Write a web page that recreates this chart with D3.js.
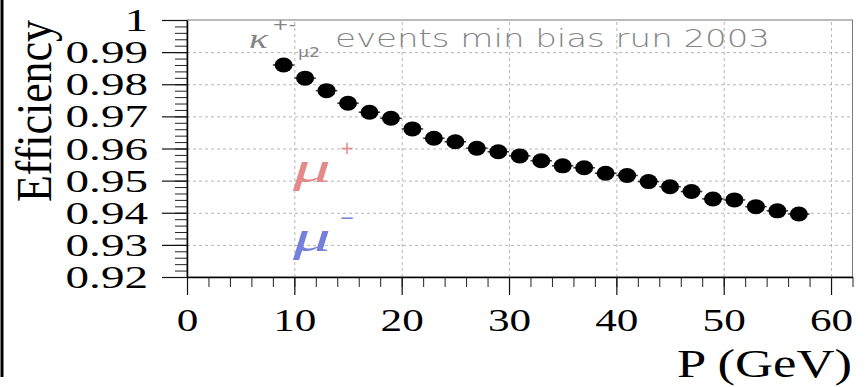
<!DOCTYPE html>
<html lang="en">
<head>
<meta charset="UTF-8">
<title>Muon efficiency vs momentum</title>
<script src="https://d3js.org/d3.v7.min.js"></script>
<style>
  body { margin: 0; background: #fff; }
  svg { display: block; background: #fff; }
  .grid line { stroke: #b5b5b5; stroke-dasharray: 3,3; }
  .grid path { display: none; }
</style>
</head>
<body>
<svg id="chart" width="868" height="387"></svg>
<script>
// momentum bin centres (GeV) and measured efficiency
const momentum = [9, 11, 13, 15, 17, 19, 21, 23, 25, 27, 29, 31, 33,
                  35, 37, 39, 41, 43, 45, 47, 49, 51, 53, 55, 57];
const efficiency = [0.9860, 0.9819, 0.9780, 0.9741, 0.9713, 0.9694, 0.9661,
                    0.9632, 0.9621, 0.9601, 0.9590, 0.9577, 0.9562, 0.9546,
                    0.9540, 0.9523, 0.9516, 0.9497, 0.9481, 0.9466, 0.9443,
                    0.9440, 0.9419, 0.9406, 0.9396];
const binHalfWidth = 1;

const xTicks = [0, 10, 20, 30, 40, 50, 60];
const yTicks = [0.92, 0.93, 0.94, 0.95, 0.96, 0.97, 0.98, 0.99, 1];

const svg = d3.select("#chart");

// plot frame
const frameL = 187, frameR = 852.5, frameT = 20, frameB = 277;

const x = d3.scaleLinear().domain([0, 62]).range([frameL, frameR]);
const y = d3.scaleLinear().domain([0.92, 1]).range([frameB, frameT]);

// the picture is stretched sideways, so widen the glyphs a bit
function stretch(sel, k) {
    sel.each(function () {
        const w = this.getComputedTextLength();
        d3.select(this).attr("textLength", w * k).attr("lengthAdjust", "spacingAndGlyphs");
    });
}

// left border of the original scan
svg.append("line")
    .attr("x1", 2).attr("x2", 2).attr("y1", 0).attr("y2", 377)
    .attr("stroke", "#000").attr("stroke-width", 3);

// dashed grid
svg.append("g").attr("class", "grid")
    .attr("transform", `translate(0,${frameB})`)
    .call(d3.axisBottom(x).tickValues(xTicks.slice(1)).tickSize(-(frameB - frameT)).tickFormat(""));
svg.append("g").attr("class", "grid")
    .attr("transform", `translate(${frameL},0)`)
    .call(d3.axisLeft(y).tickValues(yTicks.slice(1, -1)).tickSize(-(frameR - frameL)).tickFormat(""));

// top and right frame
svg.append("rect")
    .attr("x", frameL).attr("y", frameT)
    .attr("width", frameR - frameL).attr("height", frameB - frameT)
    .attr("fill", "none").attr("stroke", "#777").attr("stroke-width", 1);

// minor ticks
const xMinor = d3.range(0, 62.01, 2);
const yMinor = d3.range(0, 41).map(i => 0.92 + i * 0.002);

svg.append("g")
    .attr("transform", `translate(0,${frameB})`)
    .call(d3.axisBottom(x).tickValues(xMinor).tickSize(10).tickFormat(""))
    .call(g => g.select(".domain").remove())
    .call(g => g.selectAll("line").attr("stroke", "#222"));
svg.append("g")
    .attr("transform", `translate(${frameL},0)`)
    .call(d3.axisLeft(y).tickValues(yMinor).tickSize(12).tickFormat(""))
    .call(g => g.select(".domain").remove())
    .call(g => g.selectAll("line").attr("stroke", "#222"));

// major axes with labels
const xAxis = svg.append("g")
    .attr("transform", `translate(0,${frameB})`)
    .call(d3.axisBottom(x).tickValues(xTicks).tickSize(18).tickPadding(13).tickSizeOuter(0));
xAxis.select(".domain").attr("stroke", "#000").attr("stroke-width", 1.5);
xAxis.selectAll("line").attr("stroke", "#111").attr("stroke-width", 1.2);
xAxis.selectAll("text")
    .attr("font-family", "Liberation Serif, Times New Roman, serif")
    .attr("font-size", 32).attr("fill", "#000")
    .call(stretch, 1.35);

const yAxis = svg.append("g")
    .attr("transform", `translate(${frameL},0)`)
    .call(d3.axisLeft(y).tickValues(yTicks).tickSize(25).tickPadding(14).tickSizeOuter(0)
        .tickFormat(d => d === 1 ? "1" : d3.format(".2f")(d)));
yAxis.select(".domain").attr("stroke", "#000").attr("stroke-width", 1.5);
yAxis.selectAll("line").attr("stroke", "#111").attr("stroke-width", 1.2);
yAxis.selectAll("text")
    .attr("font-family", "Liberation Serif, Times New Roman, serif")
    .attr("font-size", 31).attr("fill", "#000").attr("dy", "0.34em")
    .call(stretch, 1.52);

// axis titles
svg.append("text")
    .attr("transform", "translate(51,111) scale(1.22,1) rotate(-90)")
    .attr("text-anchor", "middle")
    .attr("font-family", "Liberation Serif, Times New Roman, serif")
    .attr("font-size", 42)
    .attr("textLength", 182).attr("lengthAdjust", "spacingAndGlyphs")
    .text("Efficiency");

svg.append("text")
    .attr("x", 852).attr("y", 377)
    .attr("text-anchor", "end")
    .attr("font-family", "Liberation Serif, Times New Roman, serif")
    .attr("font-size", 40)
    .attr("textLength", 175).attr("lengthAdjust", "spacingAndGlyphs")
    .text("P (GeV)");

// title inside the frame
const titleColor = "#858585";
const tfont = "DejaVu Sans, Liberation Sans, sans-serif";
svg.append("text").attr("x", 249).attr("y", 48)
    .attr("font-family", "Liberation Serif, serif").attr("font-style", "italic")
    .attr("font-size", 28).attr("fill", titleColor)
    .attr("textLength", 19).attr("lengthAdjust", "spacingAndGlyphs")
    .text("κ");
svg.append("text").attr("x", 272).attr("y", 30)
    .attr("font-family", tfont).attr("font-size", 15).attr("fill", titleColor)
    .attr("textLength", 24).attr("lengthAdjust", "spacingAndGlyphs")
    .text("+-");
svg.append("text").attr("x", 298).attr("y", 57)
    .attr("font-family", tfont).attr("font-size", 14).attr("fill", titleColor)
    .attr("textLength", 22).attr("lengthAdjust", "spacingAndGlyphs")
    .text("μ2");
svg.append("text").attr("x", 335).attr("y", 47)
    .attr("font-family", tfont).attr("font-size", 24).attr("fill", titleColor)
    .attr("font-weight", 300)
    .attr("textLength", 435).attr("lengthAdjust", "spacingAndGlyphs")
    .text("events min bias run 2003");

// legend labels
const legend = [
    { sign: "+", color: "#e58a8a", base: 182, signY: 154 },
    { sign: "−", color: "#7480da", base: 251, signY: 224 }
];
legend.forEach(l => {
    svg.append("text").attr("x", 293).attr("y", l.base)
        .attr("font-family", "Liberation Serif, serif").attr("font-style", "italic")
        .attr("font-size", 44).attr("fill", l.color)
        .attr("textLength", 38).attr("lengthAdjust", "spacingAndGlyphs")
        .text("μ");
    svg.append("text").attr("x", 347).attr("y", l.signY)
        .attr("text-anchor", "middle")
        .attr("font-family", "DejaVu Sans, sans-serif")
        .attr("font-size", 18).attr("fill", l.color)
        .text(l.sign);
});

// data points with horizontal bin bars
const pts = momentum.map((m, i) => ({ p: m, eff: efficiency[i] }));
svg.append("g").selectAll("line")
    .data(pts).join("line")
    .attr("x1", d => x(d.p - binHalfWidth)).attr("x2", d => x(d.p + binHalfWidth))
    .attr("y1", d => y(d.eff)).attr("y2", d => y(d.eff))
    .attr("stroke", "#333").attr("stroke-width", 1.5);
svg.append("g").selectAll("ellipse")
    .data(pts).join("ellipse")
    .attr("cx", d => x(d.p)).attr("cy", d => y(d.eff))
    .attr("rx", 9).attr("ry", 7.5)
    .attr("fill", "#000");
</script>
</body>
</html>
